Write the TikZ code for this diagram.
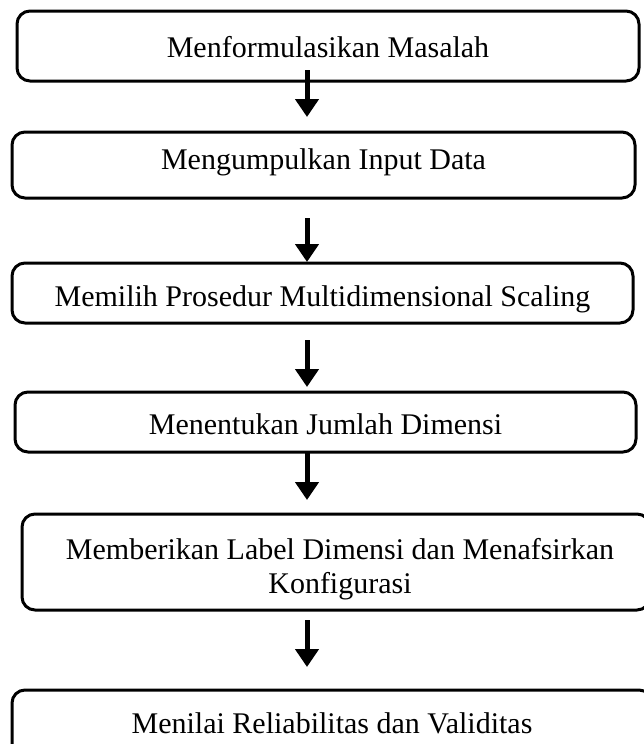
\documentclass[tikz,border=0pt]{standalone}
\usepackage{fontspec}
\setmainfont{Liberation Serif}
\usetikzlibrary{arrows.meta,positioning}

\begin{document}
\begin{tikzpicture}[x=1pt,y=1pt,thick]
\fontsize{30}{34}\selectfont
\tikzstyle{stepbox}=[draw=black, line width=3pt, rounded corners=13pt, inner sep=0pt]
\tikzstyle{steptext}=[inner sep=0pt, align=center]
\tikzstyle{flow}=[line width=5pt, -{Triangle[width=23pt,length=18pt]}]
\useasboundingbox (0,0) rectangle (643,-744);
\node[stepbox, minimum width=622, minimum height=70] (b1) at (328,-46) {};
\node[stepbox, minimum width=623, minimum height=66] (b2) at (323.5,-165) {};
\node[stepbox, minimum width=621, minimum height=60] (b3) at (322.5,-293) {};
\node[stepbox, minimum width=621, minimum height=60] (b4) at (325.5,-422) {};
\node[stepbox, minimum width=628, minimum height=96] (b5) at (336,-562) {};
\node[stepbox, minimum width=640, minimum height=66] (b6) at (332,-723) {};
\node[steptext] (l1) at ([yshift=-1pt]b1.center) {Menformulasikan Masalah};
\node[steptext] (l2) at ([yshift=3pt]b2.center) {Mengumpulkan Input Data};
\node[steptext] (l3) at ([yshift=-6pt]b3.center) {Memilih Prosedur Multidimensional Scaling};
\node[steptext] (l4) at ([yshift=-2pt]b4.center) {Menentukan Jumlah Dimensi};
\node[steptext] (l5) at ([xshift=4pt,yshift=-7pt]b5.center) {Memberikan Label Dimensi dan Menafsirkan\\Konfigurasi};
\node[steptext] (l6) at (b6.center) {Menilai Reliabilitas dan Validitas};
\foreach \n/\top/\tip in {1/70/117,2/218/262,3/340/387,4/452/500,5/620/667}
       {
        \coordinate (s\n) at (307,-\top);
        \coordinate (t\n) at (307,-\tip);
        \draw[flow] (s\n) -- (t\n);
       }
\end{tikzpicture}
\end{document}
